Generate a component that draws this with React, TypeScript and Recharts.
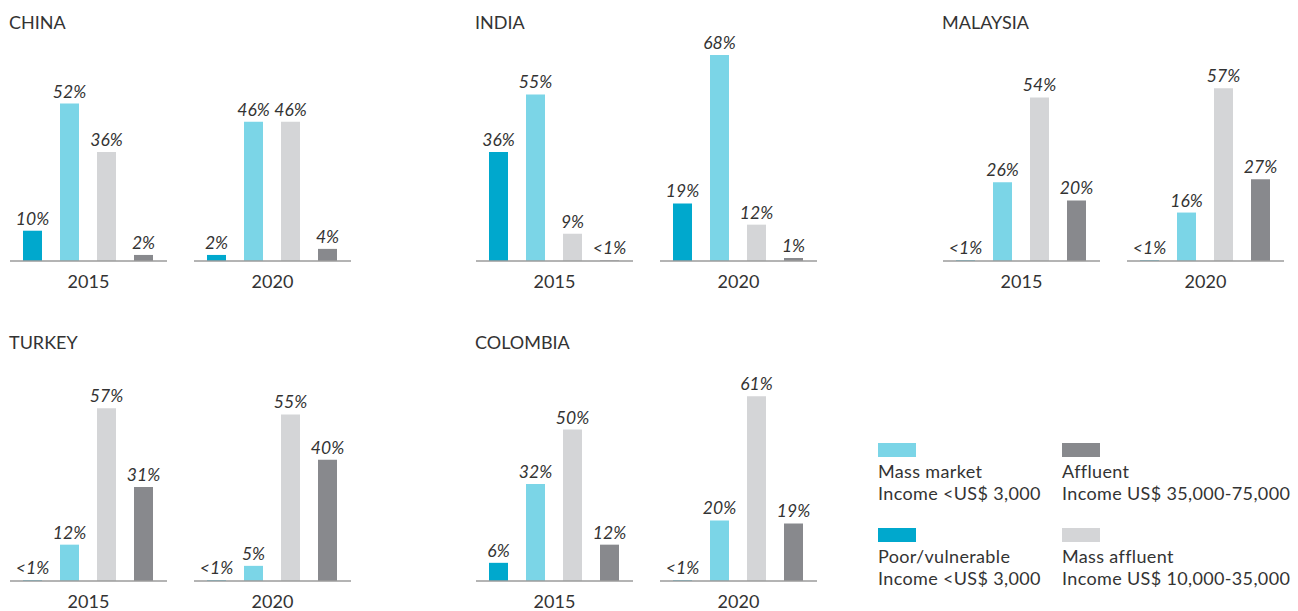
import { BarChart, Bar, XAxis, YAxis, Cell, LabelList } from "recharts";

const SEGMENTS = ["Poor/vulnerable", "Mass market", "Mass affluent", "Affluent"];
const YEARS = ["2015", "2020"];

// "<1%" shares are stored as a small fraction
const CHINA_2015 = [10, 52, 36, 2];
const CHINA_2020 = [2, 46, 46, 4];
const INDIA_2015 = [36, 55, 9, 0.2];
const INDIA_2020 = [19, 68, 12, 1];
const MALAYSIA_2015 = [0.2, 26, 54, 20];
const MALAYSIA_2020 = [0.2, 16, 57, 27];
const TURKEY_2015 = [0.2, 12, 57, 31];
const TURKEY_2020 = [0.2, 5, 55, 40];
const COLOMBIA_2015 = [6, 32, 50, 12];
const COLOMBIA_2020 = [0.2, 20, 61, 19];

const LEGEND_LABELS = [
  ["Mass market", "Income <US$ 3,000"],
  ["Affluent", "Income US$ 35,000-75,000"],
  ["Poor/vulnerable", "Income <US$ 3,000"],
  ["Mass affluent", "Income US$ 10,000-35,000"],
];

const COLORS = ["#00a8cd", "#7bd5e7", "#d4d5d7", "#88898d"];
const TEXT = "#333333";
const FONT = "Lato, 'Open Sans', sans-serif";

const fmt = (v: number) => (v < 1 ? "<1%" : `${v}%`);

function YearChart({ values, year, left, top }: { values: number[]; year: string; left: number; top: number }) {
  const data = SEGMENTS.map((segment, i) => ({ segment, value: values[i] }));
  return (
    <div style={{ position: "absolute", left, top }}>
      <BarChart width={157} height={274} data={data} margin={{ top: 20, right: 0, bottom: 0, left: 0 }} barSize={19}>
        <XAxis
          dataKey="segment"
          tick={false}
          tickLine={false}
          axisLine={{ stroke: "#9b9b9b", strokeWidth: 1.5 }}
          height={42}
          padding={{ left: 4, right: 5 }}
          label={{ value: year, position: "center", fontSize: 18, fill: TEXT }}
        />
        <YAxis hide domain={[0, 70]} />
        <Bar dataKey="value" isAnimationActive={false}>
          {data.map((_d, i) => (
            <Cell key={`c-${i}`} fill={COLORS[i]} />
          ))}
          <LabelList
            dataKey="value"
            position="top"
            offset={6}
            formatter={fmt}
            fill={TEXT}
            fontSize={17.5}
            fontStyle="italic"
          />
        </Bar>
      </BarChart>
    </div>
  );
}

const PANELS = [
  { name: "CHINA", x: 10, y: 29, v: [CHINA_2015, CHINA_2020] },
  { name: "INDIA", x: 476, y: 29, v: [INDIA_2015, INDIA_2020] },
  { name: "MALAYSIA", x: 943, y: 29, v: [MALAYSIA_2015, MALAYSIA_2020] },
  { name: "TURKEY", x: 10, y: 349, v: [TURKEY_2015, TURKEY_2020] },
  { name: "COLOMBIA", x: 476, y: 349, v: [COLOMBIA_2015, COLOMBIA_2020] },
];

const LEGEND_POS = [
  { x: 878, y: 443, color: COLORS[1] },
  { x: 1062, y: 443, color: COLORS[3] },
  { x: 878, y: 528, color: COLORS[0] },
  { x: 1062, y: 528, color: COLORS[2] },
];

export default function App() {
  return (
    <div
      style={{
        position: "absolute",
        left: 0,
        top: 0,
        width: 1298,
        height: 611,
        overflow: "hidden",
        background: "#fff",
        fontFamily: FONT,
        color: TEXT,
      }}
    >
      {PANELS.map((p) => (
        <div key={p.name}>
          <div style={{ position: "absolute", left: p.x - 1, top: p.y - 17, fontSize: 18, lineHeight: "20px" }}>
            {p.name}
          </div>
          {YEARS.map((yr, i) => (
            <YearChart key={yr} values={p.v[i]} year={yr} left={p.x + i * 184} top={p.y} />
          ))}
        </div>
      ))}
      {LEGEND_LABELS.map((lines, i) => (
        <div key={lines[0]} style={{ position: "absolute", left: LEGEND_POS[i].x, top: LEGEND_POS[i].y }}>
          <div style={{ width: 38, height: 14, background: LEGEND_POS[i].color }} />
          <div style={{ fontSize: 18, letterSpacing: 0.35, lineHeight: "22px", marginTop: 3, whiteSpace: "nowrap" }}>
            {lines[0]}
            <br />
            {lines[1]}
          </div>
        </div>
      ))}
    </div>
  );
}
